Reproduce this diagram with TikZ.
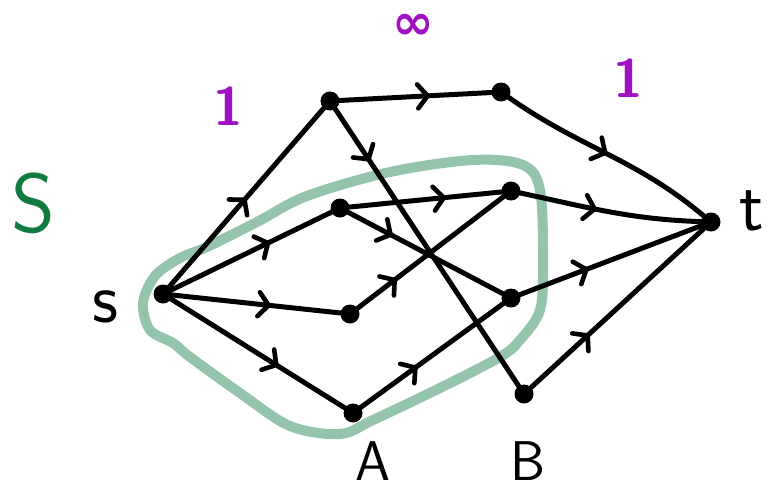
\documentclass[tikz,border=0pt]{standalone}
\usepackage{fontspec}
\newfontfamily\symbolfont{DejaVu Sans}
\usetikzlibrary{arrows.meta,decorations.markings}
\definecolor{cutgreen}{RGB}{148,196,172}
\definecolor{sgreen}{RGB}{18,122,62}
\definecolor{capcol}{RGB}{162,16,196}
\begin{document}
\begin{tikzpicture}[x=1pt,y=-1pt,
  vtx/.style={circle,fill=black,inner sep=0pt,minimum size=19pt},
  edge/.style={line width=5pt,line cap=round,black},
  midarrow/.style={postaction={decorate,decoration={markings,
     mark=at position #1 with {\arrow[line width=4.6pt]{Straight Barb[length=10pt,width=24pt,line cap=round]}}}}},
  cutline/.style={line width=10pt,cutgreen,line join=round},
  lbl/.style={font=\sffamily\fontsize{72}{72}\selectfont,anchor=base,inner sep=0pt},
  lblcap/.style={font=\sffamily\fontsize{56}{56}\selectfont,anchor=base,inner sep=0pt},
  capacity/.style={text=capcol,font=\sffamily\bfseries\fontsize{54}{54}\selectfont,anchor=base,inner sep=0pt}
]
\useasboundingbox (0,0) rectangle (768,493);

% cut curve
\draw[cutline] plot[smooth cycle,tension=0.55] coordinates {
  (143,303) (155,276) (180,258) (207,247) (257,222) (307,196) (390,172)
  (473,160) (523,165) (540,190) (543,260) (540,310) (520,340) (500,357)
  (440,388) (373,420) (340,434) (290,426) (240,393) (190,357) (173,343)
  (150,330)};

% vertices
\node[vtx] (s)  at (163,294) {};
\node[vtx] (a1) at (330,101) {};
\node[vtx] (a2) at (501,92)  {};
\node[vtx] (t)  at (711,222) {};
\node[vtx] (m1) at (340,208) {};
\node[vtx] (m2) at (511,191) {};
\node[vtx] (m3) at (350,314) {};
\node[vtx] (m4) at (511,298) {};
\node[vtx] (A)  at (353,413) {};
\node[vtx] (B)  at (524,394) {};

% edges
\draw[edge,midarrow=0.5]  (s) -- (a1);
\draw[edge,midarrow=0.62] (s) -- (m1);
\draw[edge,midarrow=0.59] (s) -- (m3);
\draw[edge,midarrow=0.62] (s) -- (A);
\draw[edge,midarrow=0.6]  (a1) -- (a2);
\draw[edge,midarrow=0.5]  (a2) to[out=-35,in=140] (t);
\draw[edge,midarrow=0.19] (a1) -- (B);
\draw[edge,midarrow=0.64] (m1) -- (m2);
\draw[edge,midarrow=0.43] (m2) to[out=-12,in=178] (t);
\draw[edge,midarrow=0.29] (m1) -- (m4);
\draw[edge,midarrow=0.27] (m3) -- (m2);
\draw[edge,midarrow=0.38] (m4) -- (t);
\draw[edge,midarrow=0.4]  (A) -- (m4);
\draw[edge,midarrow=0.34] (B) -- (t);

% labels
\node[text=sgreen,font=\sffamily\fontsize{84}{84}\selectfont,anchor=base,inner sep=0pt] (Slbl) at (33,232) {S};
\node[lbl] (slbl) at (105,322) {s};
\node[lbl] (tlbl) at (752,230) {t};
\node[lblcap] (Albl) at (373,480) {A};
\node[lblcap] (Blbl) at (528,480) {B};
\node[capacity] (c1) at (228,125) {1};
\node[capacity] (c2) at (628,97) {1};
\node[text=capcol,font=\symbolfont\bfseries\fontsize{50}{50}\selectfont,anchor=center,inner sep=0pt] (cinf) at (413,27) {∞};
\end{tikzpicture}
\end{document}
